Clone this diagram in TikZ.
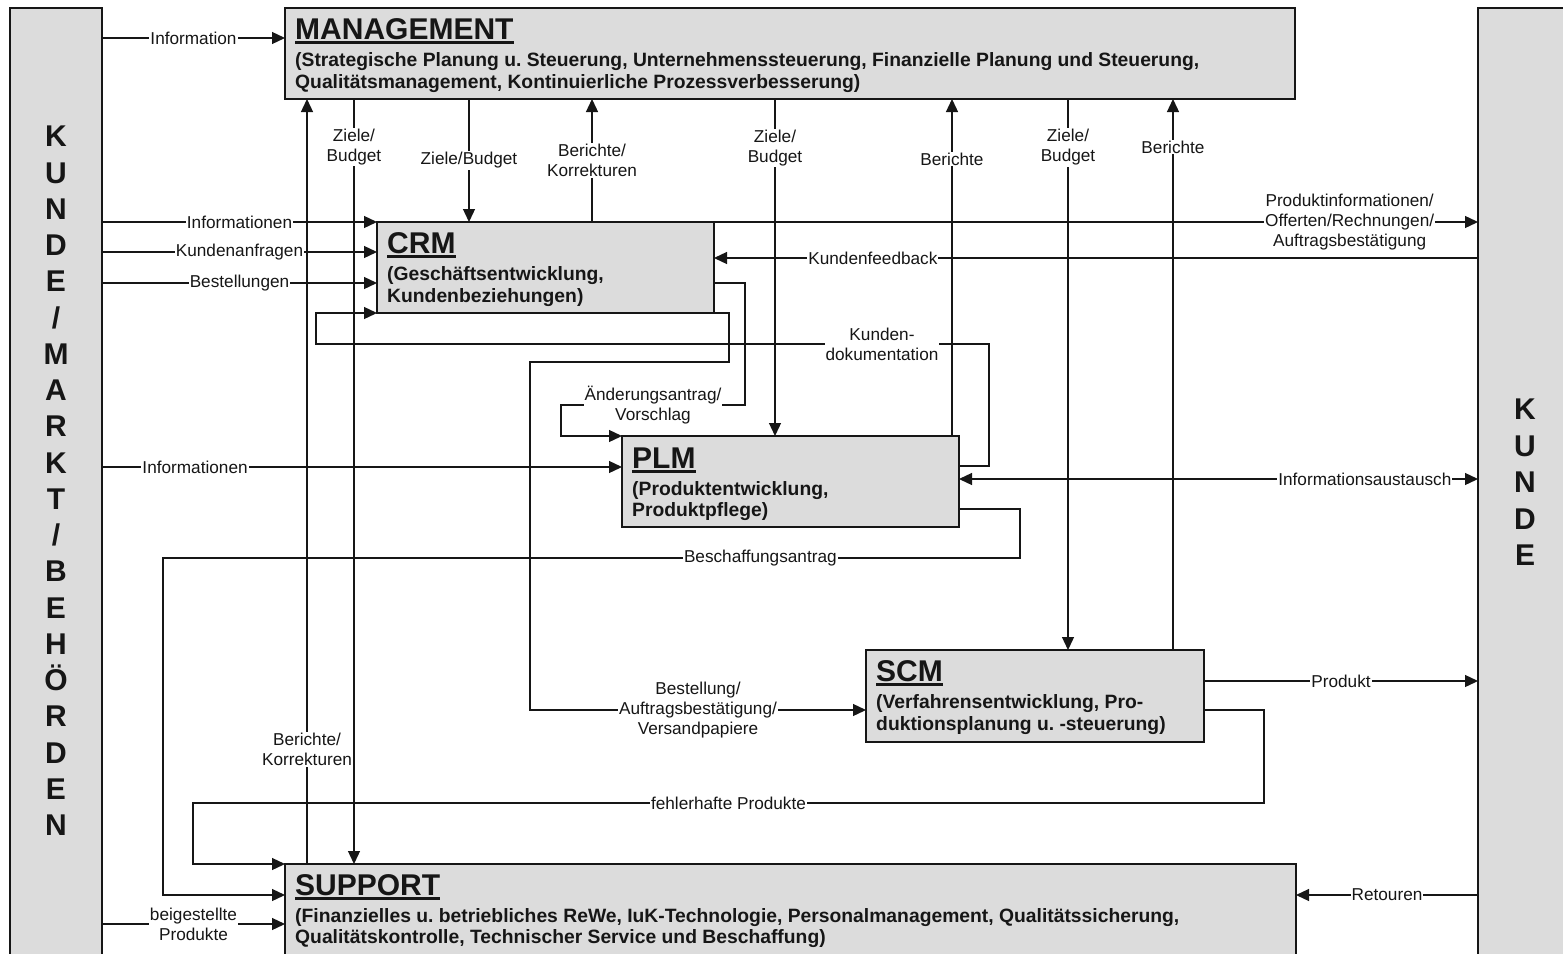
\documentclass[tikz,border=0pt]{standalone}
\usepackage{fontspec}
\setmainfont{Liberation Sans}
\usetikzlibrary{arrows.meta,calc}
\definecolor{boxgray}{RGB}{220,220,220}
\definecolor{ink}{RGB}{22,22,22}
\newcommand\myul[1]{\setbox0\hbox{#1}\rlap{\rule[-4.6pt]{\wd0}{2.5pt}}\box0}
\frenchspacing
\begin{document}
\begin{tikzpicture}[x=1pt,y=-1pt,
  box/.style={draw=ink, line width=1.8pt, fill=boxgray, inner sep=0pt, outer sep=0pt, anchor=north west},
  conn/.style={draw=ink, line width=1.3pt},
  arr/.style={conn, -{Triangle[length=13pt,width=12pt]}},
  darr/.style={conn, {Triangle[length=13pt,width=12pt]}-{Triangle[length=13pt,width=12pt]}},
  lbl/.style={fill=white, inner sep=1pt, font=\fontsize{17.2}{20}\selectfont, align=center, text=ink},
  ttl/.style={anchor=base west, inner sep=0pt, text=ink, font=\fontsize{30}{32}\selectfont\bfseries},
  bdy/.style={anchor=base west, inner sep=0pt, text=ink, font=\fontsize{19.3}{22}\selectfont\bfseries},
  big/.style={inner sep=0pt, text=ink, font=\fontsize{30}{32}\selectfont\bfseries, text height=21.5pt, text depth=0pt},
]
\useasboundingbox (0,0) rectangle (1563,953);
\clip (0,0) rectangle (1563,953);

% side boxes
\node[box, minimum width=92pt, minimum height=980pt] (kmb) at (10,8) {};
\node[box, minimum width=130pt, minimum height=980pt] (kunde) at (1478,8) {};
\foreach \c [count=\i from 0] in {K,U,N,D,E,/,M,A,R,K,T,/,B,E,H,Ö,R,D,E,N}
  \node[big] (kl-\i) at (56,136+36.26*\i) {\c};
\foreach \c [count=\i from 0] in {K,U,N,D,E}
  \node[big] (kr-\i) at (1525,409+36.5*\i) {\c};

% process boxes
\node[box, minimum width=1010pt, minimum height=91pt] (mgmt) at (285,8) {};
\node[box, minimum width=337pt, minimum height=91pt] (crm) at (377,222) {};
\node[box, minimum width=337pt, minimum height=91pt] (plm) at (622,436) {};
\node[box, minimum width=338pt, minimum height=92pt] (scm) at (866,650) {};
\node[box, minimum width=1011pt, minimum height=140pt] (sup) at (285,864) {};

\node[ttl] (mgmtT) at ($(mgmt.north west)+(10,31)$) {\myul{MANAGEMENT}};
\node[bdy] (mgmtB1) at ($(mgmt.north west)+(10,58)$) {(Strategische Planung u. Steuerung, Unternehmenssteuerung, Finanzielle Planung und Steuerung,};
\node[bdy] (mgmtB2) at ($(mgmt.north west)+(10,80)$) {Qualitätsmanagement, Kontinuierliche Prozessverbesserung)};

\node[ttl] (crmT) at ($(crm.north west)+(10,31)$) {\myul{CRM}};
\node[bdy] (crmB1) at ($(crm.north west)+(10,58)$) {(Geschäftsentwicklung,};
\node[bdy] (crmB2) at ($(crm.north west)+(10,80)$) {Kundenbeziehungen)};

\node[ttl] (plmT) at ($(plm.north west)+(10,32)$) {\myul{PLM}};
\node[bdy] (plmB1) at ($(plm.north west)+(10,59)$) {(Produktentwicklung,};
\node[bdy] (plmB2) at ($(plm.north west)+(10,80)$) {Produktpflege)};

\node[ttl] (scmT) at ($(scm.north west)+(10,31)$) {\myul{SCM}};
\node[bdy] (scmB1) at ($(scm.north west)+(10,58)$) {(Verfahrensentwicklung, Pro-};
\node[bdy] (scmB2) at ($(scm.north west)+(10,80)$) {duktionsplanung u. -steuerung)};

\node[ttl] (supT) at ($(sup.north west)+(10,31)$) {\myul{SUPPORT}};
\node[bdy] (supB1) at ($(sup.north west)+(10,58)$) {(Finanzielles u. betriebliches ReWe, IuK-Technologie, Personalmanagement, Qualitätssicherung,};
\node[bdy] (supB2) at ($(sup.north west)+(10,79)$) {Qualitätskontrolle, Technischer Service und Beschaffung)};

% inputs from the left
\draw[arr] (kmb.east |- 0,38) -- node[lbl]{Information} (mgmt.west |- 0,38);
\draw[arr] (kmb.east |- crm.north) -- node[lbl]{Informationen} (crm.north west);
\draw[arr] (kmb.east |- 0,252) -- node[lbl]{Kundenanfragen} (crm.west |- 0,252);
\draw[arr] (kmb.east |- 0,283) -- node[lbl]{Bestellungen} (crm.west |- 0,283);
\draw[arr] (kmb.east |- 0,467) -- node[lbl,pos=0.179]{Informationen} (plm.west |- 0,467);
\draw[arr] (kmb.east |- 0,924) -- node[lbl]{beigestellte\\Produkte} (sup.west |- 0,924);

% management links
\draw[arr] (307,0 |- sup.north) -- node[lbl,pos=0.15]{Berichte/\\Korrekturen} (307,0 |- mgmt.south);
\draw[arr] (354,0 |- mgmt.south) -- node[lbl,pos=0.0627]{Ziele/\\Budget} (354,0 |- sup.north);
\draw[arr] (469,0 |- mgmt.south) -- node[lbl]{Ziele/Budget} (469,0 |- crm.north);
\draw[arr] (592,0 |- crm.north) -- node[lbl]{Berichte/\\Korrekturen} (592,0 |- mgmt.south);
\draw[arr] (775,0 |- mgmt.south) -- node[lbl,pos=0.145]{Ziele/\\Budget} (775,0 |- plm.north);
\draw[arr] (952,0 |- plm.north) -- node[lbl,pos=0.822]{Berichte} (952,0 |- mgmt.south);
\draw[arr] (1068,0 |- mgmt.south) -- node[lbl,pos=0.088]{Ziele/\\Budget} (1068,0 |- scm.north);
\draw[arr] (1173,0 |- scm.north) -- node[lbl,pos=0.913]{Berichte} (1173,0 |- mgmt.south);

% customer links
\draw[arr] (crm.north east) -- node[lbl,pos=0.832]{Produktinformationen/\\Offerten/Rechnungen/\\Auftragsbestätigung} (kunde.west |- crm.north);
\draw[arr] (kunde.west |- 0,258) -- node[lbl,pos=0.792]{Kundenfeedback} (crm.east |- 0,258);
\draw[darr] (plm.east |- 0,479) -- node[lbl,pos=0.782]{Informationsaustausch} (kunde.west |- 0,479);
\draw[arr] (scm.east |- 0,681) -- node[lbl]{Produkt} (kunde.west |- 0,681);
\draw[arr] (kunde.west |- 0,895) -- node[lbl]{Retouren} (sup.east |- 0,895);

% internal flows
\draw[arr] (crm.east |- 0,283) -| (745,405) -- node[lbl]{Änderungsantrag/\\Vorschlag} (561,405) |- (plm.north west);
\draw[arr] (plm.east |- 0,466) -| (989,344) -- node[lbl,pos=0.159]{Kunden-\\dokumentation} (316,344) |- (crm.south west);
\draw[arr] (crm.south east) -| (729,362) -| (530,710) -- node[lbl]{Bestellung/\\Auftragsbestätigung/\\Versandpapiere} (scm.west |- 0,710);
\draw[arr] (plm.east |- 0,509) -| (1020,558) -- node[lbl,pos=0.303]{Beschaffungsantrag} (163,558) |- (sup.west |- 0,895);
\draw[arr] (scm.east |- 0,710) -| (1264,803) -- node[lbl]{fehlerhafte Produkte} (193,803) |- (sup.north west);
\end{tikzpicture}
\end{document}
